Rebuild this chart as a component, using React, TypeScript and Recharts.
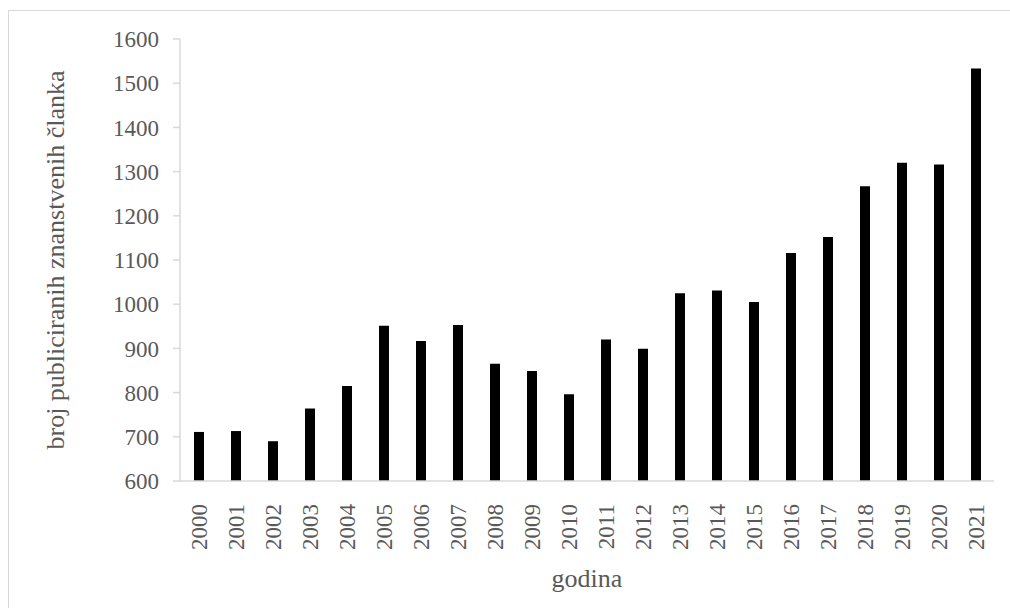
import { BarChart, Bar, XAxis, YAxis, Label } from "recharts";

const years = [
  "2000", "2001", "2002", "2003", "2004", "2005", "2006", "2007", "2008", "2009", "2010",
  "2011", "2012", "2013", "2014", "2015", "2016", "2017", "2018", "2019", "2020", "2021",
];
const articles = [
  711, 713, 690, 764, 815, 951, 917, 953, 865, 849, 796,
  920, 899, 1025, 1031, 1005, 1116, 1152, 1267, 1320, 1316, 1533,
];
const yTicks = [600, 700, 800, 900, 1000, 1100, 1200, 1300, 1400, 1500, 1600];

const FONT = '"Liberation Serif", "Times New Roman", serif';
const TEXT = "#595959";
const AXIS = "#d9d9d9";

const data = years.map((year, i) => ({ year, count: articles[i] }));

function YearTick({ x, y, payload }: any) {
  return (
    <text
      x={x}
      y={y + 15}
      dy="0.35em"
      transform={`rotate(-90, ${x}, ${y + 15})`}
      textAnchor="end"
      fill={TEXT}
      fontSize={23}
      fontFamily={FONT}
    >
      {payload.value}
    </text>
  );
}

export default function App() {
  return (
    <div
      style={{
        position: "fixed",
        left: 0,
        top: 0,
        width: 1010,
        height: 608,
        overflow: "hidden",
        background: "#fff",
      }}
    >
      {/* frame runs past the window on the right and bottom, like the source image */}
      <div
        style={{
          position: "absolute",
          left: 8,
          top: 10,
          width: 1040,
          height: 640,
          borderTop: "1px solid #d9d9d9",
          borderLeft: "1px solid #d9d9d9",
        }}
      >
        <BarChart
          width={1001}
          height={597}
          data={data}
          margin={{ top: 28, right: 16, left: 0, bottom: 0 }}
        >
          <XAxis
            dataKey="year"
            interval={0}
            height={127}
            tickLine={false}
            axisLine={{ stroke: AXIS, strokeWidth: 1.5 }}
            tick={<YearTick />}
          >
            <Label
              content={({ viewBox }: any) => (
                <text
                  x={viewBox.x + viewBox.width / 2}
                  y={viewBox.y + 97}
                  textAnchor="middle"
                  dominantBaseline="central"
                  fill={TEXT}
                  fontSize={26}
                  fontFamily={FONT}
                >
                  godina
                </text>
              )}
            />
          </XAxis>
          <YAxis
            width={171}
            domain={[600, 1600]}
            ticks={yTicks}
            allowDataOverflow
            interval={0}
            tickSize={7}
            tickMargin={14}
            axisLine={{ stroke: AXIS, strokeWidth: 1.5 }}
            tickLine={{ stroke: AXIS, strokeWidth: 1.5 }}
            tick={{ fill: TEXT, fontSize: 23, fontFamily: FONT }}
          >
            <Label
              content={({ viewBox }: any) => {
                const cx = viewBox.x + 46;
                const cy = viewBox.y + viewBox.height / 2;
                return (
                  <text
                    x={cx}
                    y={cy}
                    transform={`rotate(-90, ${cx}, ${cy})`}
                    textAnchor="middle"
                    dominantBaseline="central"
                    fill={TEXT}
                    fontSize={26}
                    fontFamily={FONT}
                  >
                    broj publiciranih znanstvenih članka
                  </text>
                );
              }}
            />
          </YAxis>
          <Bar dataKey="count" fill="#000" barSize={10} isAnimationActive={false} />
        </BarChart>
      </div>
    </div>
  );
}
